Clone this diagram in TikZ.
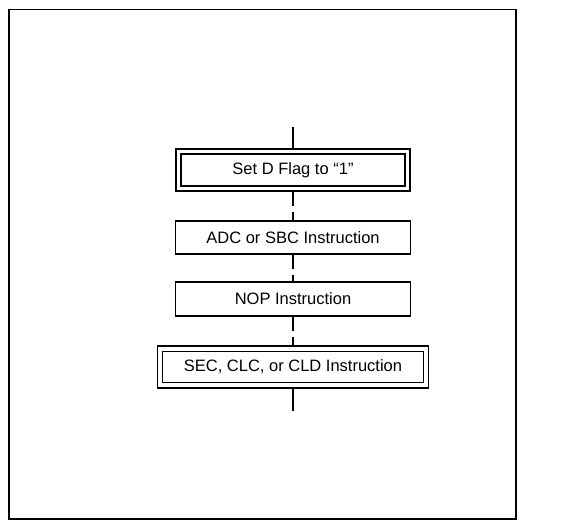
\documentclass[tikz,border=0pt]{standalone}
\usepackage{fontspec}
\setmainfont{Liberation Sans}
\usepackage{tikz}

\tikzset{
  box/.style={draw, line width=1.5pt, minimum height=34pt, inner sep=0pt},
  dblbox/.style={box, double, double distance=3.6pt, outer sep=3.3pt},
  link/.style={line width=2pt},
  brokenlink/.style={link, dash pattern=on 14pt off 6pt on 30pt off 1pt}
}

\begin{document}
\begin{tikzpicture}[x=1pt, y=-1pt, every node/.style={font=\fontsize{16.5}{20}\selectfont}]
	\useasboundingbox (0,0) rectangle (571,525);
	\draw[line width=1.8pt] (9,9.5) rectangle (516,519);
	% the four steps
	\node[dblbox, minimum width=229pt, minimum height=37pt] (setd) at (293,170) {Set D Flag to “1”};
	\node[box, minimum width=235pt, minimum height=33pt] (adc) at (293,237.5) {ADC or SBC Instruction};
	\node[box, minimum width=235pt] (nop) at (293,299) {NOP Instruction};
	\node[dblbox, minimum width=266pt, minimum height=36.5pt] (sec) at (293,367) {SEC, CLC, or CLD Instruction};
	\coordinate (entry) at (293,127);
	\coordinate (exit) at (293,411);
	\draw[link] (entry) -- (setd.north);
	\draw[brokenlink] (setd.south) -- (adc.north);
	\draw[brokenlink] (adc.south) -- (nop.north);
	\draw[brokenlink] (nop.south) -- (sec.north);
	\draw[link] (sec.south) -- (exit);
\end{tikzpicture}
\end{document}
